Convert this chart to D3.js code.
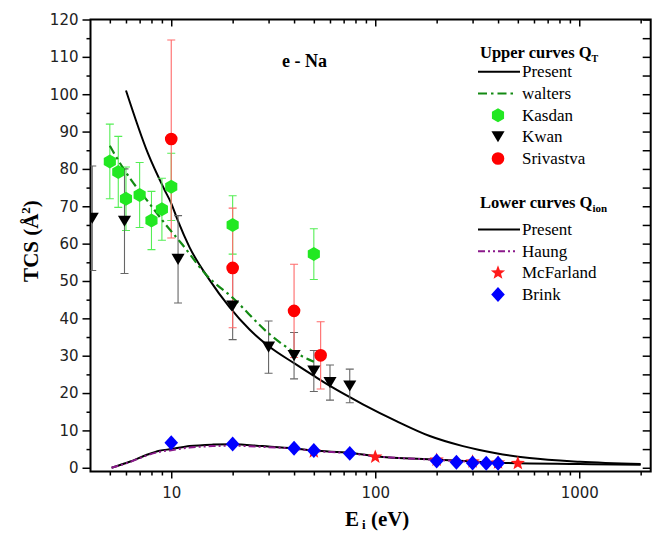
<!DOCTYPE html>
<html><head><meta charset="utf-8">
<script src="https://cdn.jsdelivr.net/npm/d3@7"></script>
<style>body{margin:0;background:#fff}</style>
</head><body><svg id="c" width="659" height="534"></svg>
<script>
// ---- data ----
const kasdanE=[5,5.5,6,7,8,9,10,20,50];
const kasdanV=[82,79.2,72,73,66.2,69.2,75.2,65,57.2];
const kasdanErr=[10,9.5,8.5,8.7,7.8,8.3,9,7.8,6.8];
const kwanE=[4.1,5.9,10.8,20,30,40,50,60,75];
const kwanV=[66.8,66,55.8,43.3,32.3,30,25.9,22.8,21.9];
const kwanErr=[14,14,11.7,9,7,6.2,5.5,4.7,4.5];
const srivE=[10,20,40,54];
const srivV=[88,53.5,42,30.1];
const srivErr=[26.5,16,12.5,9];
const waltersE=[5,5.27,6.37,7.68,9.27,11.2,15.1,20,30,40,50];
const waltersV=[86.2,84,77,71.3,65.5,60.1,51.2,45.5,36,31,28.4];
const presentTE=[6,7.68,9.27,10,10.8,12.3,15.4,19.3,24.2,30.3,40,50,60,87,127,185,269,391,570,1010,2000];
const presentTV=[101,84.2,74.4,70.8,66,59,50.3,43,37,32.4,28,24.6,21.9,17,12.5,8.5,5.8,3.9,2.6,1.6,1.0];
const presentIonE=[5.1,6.25,7.54,8.77,10,12.3,16,20,28,40,50,75,100,200,405,1000,2000];
const presentIonV=[0,1.6,3.4,4.55,5.0,5.8,6.2,6.3,5.8,5.2,4.6,4.0,3.1,2.2,1.35,1.0,0.8];
const haungE=[5.1,6.25,7.5,8.8,10,12.3,16,20,28,40,50,75,100,200,300,400];
const haungV=[0,1.5,3.2,4.3,4.7,5.4,5.8,5.9,5.6,5.1,4.5,3.9,3.1,2.1,1.6,1.3];
const mcfE=[50,100,200,300,400,500];
const mcfV=[4.3,2.9,2.1,1.6,1.35,1.2];
const brinkE=[10,20,40,50,75,200,250,300,350,400];
const brinkV=[6.7,6.35,5.2,4.6,3.85,1.8,1.45,1.25,1.2,1.2];
const yMajor=d3.range(0,121,10);
const yMinor=d3.range(5,120,10);
const yRight=d3.range(0,121,5);
const xMajor=[10,100,1000];
const xMinor=[5,6,7,8,9,20,30,40,50,60,70,80,90,200,300,400,500,600,700,800,900,2000];

// ---- layout ----
const L=90.5,R=650.7,T=19.5,B=471.5;
const SERIF="Liberation Serif, 'Times New Roman', serif";
const svg=d3.select("#c");
const x=d3.scaleLog().domain([4.02,2240]).range([L,R]);
const y=d3.scaleLinear().domain([-1,120]).range([B,T]);

svg.append("clipPath").attr("id","clip").append("rect")
  .attr("x",L).attr("y",T).attr("width",R-L).attr("height",B-T);

// ---- axes ----
const tickFont="DejaVu Sans, sans-serif";
function styleAxis(g){g.select(".domain").remove();g.selectAll("line").attr("stroke","#000").attr("stroke-width",1.5);
  g.selectAll("text").attr("font-family",tickFont).attr("font-size",15).attr("fill","#222");}
svg.append("g").attr("transform",`translate(0,${B})`)
  .call(d3.axisBottom(x).tickValues(xMajor).tickFormat(d3.format("d")).tickSize(7).tickPadding(9)).call(styleAxis);
svg.append("g").attr("transform",`translate(0,${B})`)
  .call(d3.axisBottom(x).tickValues(xMinor).tickFormat("").tickSize(4)).call(styleAxis);
svg.append("g").attr("transform",`translate(0,${T})`)
  .call(d3.axisTop(x).tickValues(xMajor).tickFormat("").tickSize(-7)).call(styleAxis);
svg.append("g").attr("transform",`translate(0,${T})`)
  .call(d3.axisTop(x).tickValues(xMinor).tickFormat("").tickSize(-4)).call(styleAxis);
svg.append("g").attr("transform",`translate(${L},0)`)
  .call(d3.axisLeft(y).tickValues(yMajor).tickSize(8).tickPadding(4)).call(styleAxis);
svg.append("g").attr("transform",`translate(${L},0)`)
  .call(d3.axisLeft(y).tickValues(yMinor).tickFormat("").tickSize(4)).call(styleAxis);
svg.append("g").attr("transform",`translate(${R},0)`)
  .call(d3.axisRight(y).tickValues(yRight).tickFormat("").tickSize(-8)).call(styleAxis);
svg.append("rect").attr("x",L).attr("y",T).attr("width",R-L).attr("height",B-T)
  .attr("fill","none").attr("stroke","#000").attr("stroke-width",2);

// ---- symbols ----
const hexSym={draw(c,s){const r=Math.sqrt(s);for(let i=0;i<6;i++){const a=Math.PI/2+i*Math.PI/3;const px=r*Math.cos(a),py=r*Math.sin(a);i?c.lineTo(px,py):c.moveTo(px,py);}c.closePath();}};
const triDown={draw(c,s){const w=Math.sqrt(s),h=w*0.85;c.moveTo(-w/2,-h/2);c.lineTo(w/2,-h/2);c.lineTo(0,h/2);c.closePath();}};
const diamondSym={draw(c,s){const w=Math.sqrt(s)/2,h=w*1.1;c.moveTo(0,-h);c.lineTo(w,0);c.lineTo(0,h);c.lineTo(-w,0);c.closePath();}};
const starSym={draw(c,s){const ro=Math.sqrt(s),ri=ro*0.42;for(let i=0;i<10;i++){const r=i%2?ri:ro;const a=-Math.PI/2+i*Math.PI/5;const px=r*Math.cos(a),py=r*Math.sin(a);i?c.lineTo(px,py):c.moveTo(px,py);}c.closePath();}};
const circSym={draw(c,s){const r=Math.sqrt(s);c.moveTo(r,0);c.arc(0,0,r,0,2*Math.PI);}};

const plot=svg.append("g").attr("clip-path","url(#clip)");
const line=d3.line().x(d=>x(d[0])).y(d=>y(d[1])).curve(d3.curveMonotoneX);
const zip=(a,b)=>a.map((v,i)=>[v,b[i]]);

function errBars(E,V,Er,color){
  const g=plot.append("g").attr("stroke",color).attr("stroke-width",1.1);
  E.forEach((e,i)=>{
    const cx=x(e),y1=y(V[i]+Er[i]),y2=y(V[i]-Er[i]);
    g.append("line").attr("x1",cx).attr("x2",cx).attr("y1",y1).attr("y2",y2);
    g.append("line").attr("x1",cx-4).attr("x2",cx+4).attr("y1",y1).attr("y2",y1);
    g.append("line").attr("x1",cx-4).attr("x2",cx+4).attr("y1",y2).attr("y2",y2);
  });
}
function markers(E,V,sym,size,color){
  plot.append("g").selectAll("path").data(zip(E,V)).join("path")
    .attr("transform",d=>`translate(${x(d[0])},${y(d[1])})`)
    .attr("d",d3.symbol().type(sym).size(size)).attr("fill",color);
}

// lower curves
plot.append("path").datum(zip(presentIonE,presentIonV)).attr("d",line)
  .attr("fill","none").attr("stroke","#000").attr("stroke-width",2);
plot.append("path").datum(zip(haungE,haungV)).attr("d",line)
  .attr("fill","none").attr("stroke","#8b1a8b").attr("stroke-width",2).attr("stroke-dasharray","7,3,2,3,2,3");
// upper curves
plot.append("path").datum(zip(presentTE,presentTV)).attr("d",line)
  .attr("fill","none").attr("stroke","#000").attr("stroke-width",2);

// error bars
errBars(kasdanE,kasdanV,kasdanErr,"#55ee55");
errBars(kwanE,kwanV,kwanErr,"#666");
errBars(srivE,srivV,srivErr,"#ff6a6a");

plot.append("path").datum(zip(waltersE,waltersV)).attr("d",line)
  .attr("fill","none").attr("stroke","#138a13").attr("stroke-width",2.2).attr("stroke-dasharray","9,4,2.5,4");

markers(kasdanE,kasdanV,hexSym,49,"#22e822");
markers(kwanE,kwanV,triDown,172,"#000");
markers(srivE,srivV,circSym,40,"#ff0000");
markers(mcfE,mcfV,starSym,56,"#ff1a1a");
markers(brinkE,brinkV,diamondSym,185,"#0000ff");

// ---- texts ----
svg.append("text").attr("x",282).attr("y",67).attr("font-family",SERIF)
  .attr("font-weight","bold").attr("font-size",18).text("e - Na");

const lg=svg.append("g");
function header(yb,word,sub){
  const t=lg.append("text").attr("x",480).attr("y",yb).attr("font-family",SERIF).attr("font-weight","bold").attr("font-size",16.5);
  t.append("tspan").text(word+" curves Q");
  t.append("tspan").attr("dy",4).attr("font-size",sub==="T"?10:11).text(sub);
}
header(58,"Upper","T");
header(208,"Lower","ion");
const entries=[
  {yb:77.3,t:"Present",kind:"line",c:"#000",dash:null},
  {yb:99,t:"walters",kind:"line",c:"#138a13",dash:"9,4,2.5,4"},
  {yb:120.7,t:"Kasdan",kind:"sym",sym:hexSym,size:49,c:"#22e822"},
  {yb:142.3,t:"Kwan",kind:"sym",sym:triDown,size:172,c:"#000"},
  {yb:164,t:"Srivastva",kind:"sym",sym:circSym,size:40,c:"#ff0000"},
  {yb:235,t:"Present",kind:"line",c:"#000",dash:null},
  {yb:256.7,t:"Haung",kind:"line",c:"#8b1a8b",dash:"7,3,2,3,2,3"},
  {yb:278.3,t:"McFarland",kind:"sym",sym:starSym,size:56,c:"#ff1a1a"},
  {yb:300,t:"Brink",kind:"sym",sym:diamondSym,size:185,c:"#0000ff"}
];
entries.forEach(e=>{
  const cy=e.yb-5.5;
  if(e.kind==="line"){
    const l=lg.append("line").attr("x1",478).attr("x2",520).attr("y1",cy).attr("y2",cy)
      .attr("stroke",e.c).attr("stroke-width",2);
    if(e.dash) l.attr("stroke-dasharray",e.dash).attr("x2",516);
  } else {
    lg.append("path").attr("transform",`translate(498,${cy})`).attr("d",d3.symbol().type(e.sym).size(e.size)).attr("fill",e.c);
  }
  lg.append("text").attr("x",522).attr("y",e.yb).attr("font-family",SERIF).attr("font-size",17).text(e.t);
});

// axis titles
const yl=svg.append("text").attr("transform","translate(38,241) rotate(-90)").attr("text-anchor","middle")
  .attr("font-family",SERIF).attr("font-weight","bold").attr("font-size",21);
yl.append("tspan").text("TCS (Å");
yl.append("tspan").attr("dy",-8).attr("font-size",13).text("2");
yl.append("tspan").attr("dy",8).text(")");
const xl=svg.append("text").attr("x",345).attr("y",526)
  .attr("font-family",SERIF).attr("font-weight","bold").attr("font-size",21);
xl.append("tspan").text("E");
xl.append("tspan").attr("dx",3).attr("dy",3).attr("font-size",13).text("i");
xl.append("tspan").attr("dy",-3).text(" (eV)");
</script></body></html>
